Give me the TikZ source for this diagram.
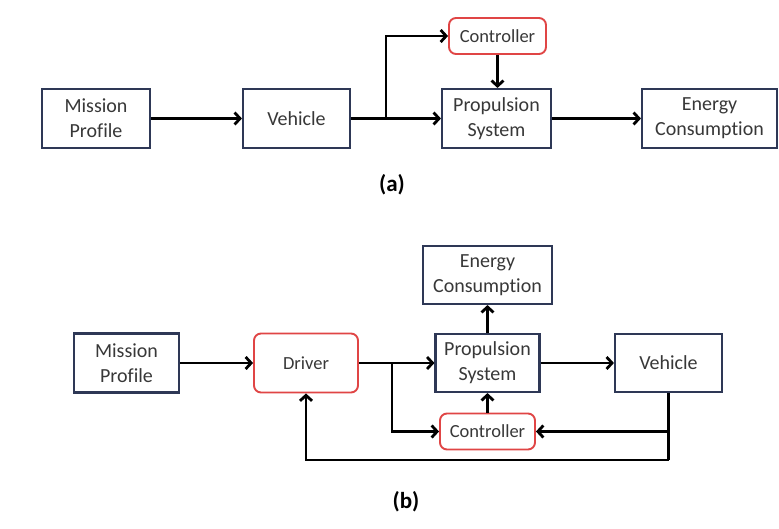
\documentclass[tikz,border=0pt]{standalone}
\usepackage{fontspec}
\setmainfont{Carlito}[Ligatures=NoCommon]
\usetikzlibrary{arrows.meta}
\definecolor{boxline}{HTML}{2E3856}
\definecolor{redline}{HTML}{E04545}
\definecolor{txt}{HTML}{383838}
\begin{document}
\begin{tikzpicture}[x=1pt,y=-1pt,
  blk/.style={draw=boxline,line width=2.1pt,fill=white,inner sep=0pt,align=center,
    text=txt,font=\fontsize{20}{25}\selectfont},
  redblk/.style={draw=redline,line width=1.9pt,rounded corners=7pt,fill=white,inner sep=0pt,
    align=center,text=txt,font=\fontsize{18.5}{22}\selectfont},
  conn/.style={line width=2.8pt,black},
  arr/.style={conn,-{Straight Barb[length=5.5pt,width=12pt,line width=2.8pt]}},
  lbl/.style={font=\fontsize{23}{26}\bfseries\selectfont,text=black}]
\useasboundingbox (0,0) rectangle (779,529);
\fill[white] (0,0) rectangle (779,529);
% (a)
\node[blk,minimum width=108pt,minimum height=59pt] (mp1) at (96,118.5) {Mission\\Profile};
\node[blk,minimum width=107pt,minimum height=59pt] (veh1) at (296.5,118.5) {Vehicle};
\node[redblk,minimum width=97pt,minimum height=36pt] (ctl1) at (497.5,36) {Controller};
\node[blk,minimum width=109pt,minimum height=59pt] (prop1) at (496.5,118.5) {Propulsion\\System};
\node[blk,minimum width=135pt,minimum height=59pt] (en1) at (709.5,118.5) {Energy\\Consumption};
\coordinate (ja) at (386,118.5);
\draw[arr] (mp1) -- (veh1);
\draw[arr] (veh1) -- (prop1);
\draw[arr] (ja) |- (ctl1.west);
\draw[arr] (ctl1.south) -- (ctl1.south |- prop1.north);
\draw[arr] (prop1) -- (en1);
\node[lbl] (la) at (392,185) {(a)};
% (b)
\node[blk,minimum width=105pt,minimum height=59pt] (mp2) at (126.5,363) {Mission\\Profile};
\node[redblk,minimum width=104pt,minimum height=59pt] (drv) at (306,363) {Driver};
\node[blk,minimum width=129pt,minimum height=58pt] (en2) at (487.5,275) {Energy\\Consumption};
\node[blk,minimum width=104pt,minimum height=58pt] (prop2) at (487.5,363) {Propulsion\\System};
\node[blk,minimum width=107pt,minimum height=58pt] (veh2) at (668.5,363) {Vehicle};
\node[redblk,minimum width=95pt,minimum height=36pt] (ctl2) at (487.5,431.5) {Controller};
\coordinate (jb) at (392,363);
\coordinate (fb) at (668.5,460);
\coordinate (jc) at (668.5,431.5);
\draw[arr] (mp2) -- (drv);
\draw[arr] (drv) -- (prop2);
\draw[arr] (jb) |- (ctl2.west);
\draw[arr] (prop2) -- (en2);
\draw[arr] (ctl2) -- (prop2);
\draw[arr] (prop2) -- (veh2);
\draw[conn] (veh2.south) -- (fb);
\draw[arr] (fb) -| (drv.south);
\draw[arr] (jc) -- (ctl2.east);
\node[lbl] (lb) at (406,502) {(b)};
\end{tikzpicture}
\end{document}
